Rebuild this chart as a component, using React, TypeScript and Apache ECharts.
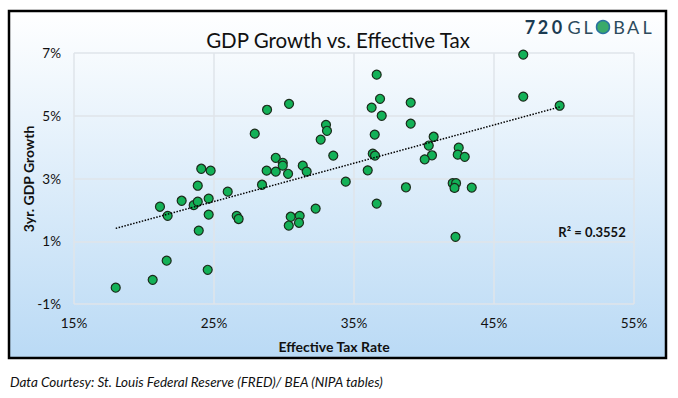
import React, { useEffect, useRef } from "react";
import * as echarts from "echarts";

const taxRate = [21.14, 21.69, 22.69, 23.55, 23.84, 23.84, 24.09, 24.76, 24.62, 24.62, 23.91, 25.98, 26.62, 26.76, 27.91, 28.43, 28.79, 28.76, 29.41, 29.41, 29.91, 29.91, 30.29, 30.36, 30.48, 30.34, 31.12, 31.07, 31.34, 31.62, 32.26, 32.62, 33.0, 33.07, 33.52, 34.41, 36.62, 36.86, 36.26, 36.98, 39.05, 39.05, 36.48, 36.34, 36.5, 35.98, 40.69, 40.34, 40.57, 40.05, 42.48, 42.41, 42.91, 38.71, 42.05, 42.29, 42.18, 43.41, 36.62, 42.25, 47.09, 47.09, 49.69, 17.98, 20.62, 21.62, 24.55];
const gdpGrowth = [2.1, 1.81, 2.29, 2.15, 2.26, 2.77, 3.31, 3.25, 2.36, 1.85, 1.34, 2.58, 1.81, 1.71, 4.43, 2.8, 5.19, 3.25, 3.66, 3.22, 3.5, 3.41, 3.15, 5.38, 1.78, 1.5, 1.81, 1.59, 3.41, 3.22, 2.04, 4.24, 4.71, 4.52, 3.73, 2.9, 6.31, 5.54, 5.26, 5.0, 5.42, 4.75, 4.4, 3.79, 3.73, 3.26, 4.33, 4.05, 3.74, 3.61, 3.98, 3.76, 3.69, 2.72, 2.85, 2.85, 2.7, 2.71, 2.2, 1.14, 6.95, 5.61, 5.32, -0.48, -0.23, 0.38, 0.09];

const trendX = [17.98, 49.69];
const trendY = [1.41, 5.28];

const title = "GDP Growth vs. Effective Tax";
const xName = "Effective Tax Rate";
const yName = "3yr. GDP Growth";
const rSquared = "R² = 0.3552";
const footer = "Data Courtesy: St. Louis Federal Reserve (FRED)/ BEA (NIPA tables)";

export default function App() {
  const ref = useRef<HTMLDivElement>(null);
  useEffect(() => {
    if (!ref.current) return;
    const chart = echarts.init(ref.current, null, { renderer: "svg" });
    const points = taxRate.map((x, i) => [x, gdpGrowth[i]]);
    const trend = trendX.map((x, i) => [x, trendY[i]]);
    const font = "Lato, 'Open Sans', sans-serif";
    const logoText = (t: string, x: number, bold: boolean) => ({
      type: "text",
      x,
      y: 27,
      style: {
        text: t,
        fontSize: 18,
        fontWeight: bold ? "bold" : "normal",
        fontFamily: font,
        fill: bold ? "#1b3b52" : "#2d4b5d",
        align: "center",
        verticalAlign: "middle",
      },
    });
    chart.setOption({
      animation: false,
      backgroundColor: "#ffffff",
      textStyle: { fontFamily: font },
      grid: { left: 74, right: 44, top: 53, bottom: 94 },
      xAxis: {
        type: "value",
        min: 15,
        max: 55,
        interval: 10,
        axisLine: { show: false },
        axisTick: { show: false },
        axisLabel: {
          formatter: (v: number) => v + "%",
          color: "#111",
          fontSize: 13.5,
          margin: 12,
          fontFamily: font,
        },
        splitLine: { show: true, lineStyle: { color: "#dfe4ea", width: 1.5 } },
      },
      yAxis: {
        type: "value",
        min: -1,
        max: 7,
        interval: 2,
        axisLine: { show: false },
        axisTick: { show: false },
        axisLabel: {
          formatter: (v: number) => v + "%",
          color: "#111",
          fontSize: 13.5,
          margin: 13,
          fontFamily: font,
        },
        splitLine: { show: true, lineStyle: { color: "#dfe4ea", width: 1.5 } },
      },
      graphic: [
        {
          type: "rect",
          z: -10,
          shape: { x: 9, y: 11, width: 657, height: 347 },
          style: {
            fill: new echarts.graphic.LinearGradient(0, 0, 0, 1, [
              { offset: 0, color: "#ffffff" },
              { offset: 1, color: "#badaf5" },
            ]),
            stroke: "#000",
            lineWidth: 2.5,
          },
          silent: true,
        },
        {
          type: "text",
          x: 338,
          y: 40,
          style: {
            text: title,
            fontSize: 20.5,
            fontFamily: font,
            fill: "#111",
            align: "center",
            verticalAlign: "middle",
          },
        },
        {
          type: "text",
          x: 334,
          y: 346,
          style: {
            text: xName,
            fontSize: 14,
            fontWeight: "bold",
            fontFamily: font,
            fill: "#111",
            align: "center",
            verticalAlign: "middle",
          },
        },
        {
          type: "text",
          x: 28,
          y: 179,
          rotation: Math.PI / 2,
          style: {
            text: yName,
            fontSize: 14,
            fontWeight: "bold",
            fontFamily: font,
            fill: "#111",
            align: "center",
            verticalAlign: "middle",
          },
        },
        {
          type: "text",
          x: 592,
          y: 232,
          style: {
            text: rSquared,
            fontSize: 13,
            fontWeight: "bold",
            fontFamily: font,
            fill: "#111",
            align: "center",
            verticalAlign: "middle",
          },
        },
        {
          type: "text",
          x: 10,
          y: 382,
          style: {
            text: footer,
            fontSize: 13.5,
            fontStyle: "italic",
            fontFamily: font,
            fill: "#111",
            align: "left",
            verticalAlign: "middle",
          },
        },
        logoText("7", 530, true),
        logoText("2", 543, true),
        logoText("0", 557, true),
        logoText("G", 574, false),
        logoText("L", 588, false),
        {
          type: "circle",
          shape: { cx: 603, cy: 27, r: 6.5 },
          style: { fill: "#3aaa6a", stroke: "#2b72a0", lineWidth: 1.5 },
        },
        logoText("B", 619, false),
        logoText("A", 633, false),
        logoText("L", 647, false),
      ],
      series: [
        {
          type: "scatter",
          data: points,
          symbolSize: 9,
          itemStyle: { color: "#13b157", borderColor: "#1b2b1b", borderWidth: 1.2, opacity: 1 },
          z: 2,
        },
        {
          type: "line",
          data: trend,
          symbol: "none",
          lineStyle: { color: "#000", width: 1.5, type: [1.5, 1.5] },
          z: 3,
          silent: true,
        },
      ],
    });
    return () => chart.dispose();
  }, []);
  return (
    <div
      ref={ref}
      style={{ position: "absolute", left: 0, top: 0, width: 678, height: 398 }}
    />
  );
}
